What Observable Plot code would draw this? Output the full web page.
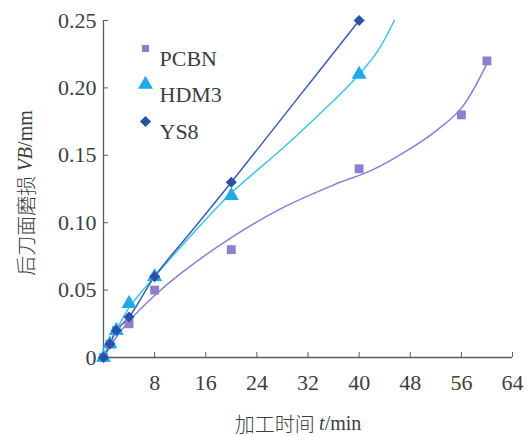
<!DOCTYPE html>
<html>
<head>
<meta charset="utf-8">
<script src="https://cdn.jsdelivr.net/npm/d3@7"></script>
<script src="https://cdn.jsdelivr.net/npm/@observablehq/plot@0.6"></script>
<style>
  html, body { margin: 0; padding: 0; background: #fff; }
  svg { display: block; }
</style>
</head>
<body>
<div id="chart"></div>
<script>
// Measured points
const series = ["PCBN", "HDM3", "YS8"];
const pcbnT = [0, 1, 2, 4, 8, 20, 40, 56, 60];
const pcbnVB = [0, 0.01, 0.02, 0.025, 0.05, 0.08, 0.14, 0.18, 0.22];
const hdm3T = [0, 1, 2, 4, 8, 20, 40];
const hdm3VB = [0, 0.01, 0.02, 0.04, 0.06, 0.12, 0.21];
const ys8T = [0, 1, 2, 4, 8, 20, 40];
const ys8VB = [0, 0.01, 0.02, 0.03, 0.06, 0.13, 0.25];

// Fitted curves
const pcbnFitT = [0, 2, 4, 8, 12, 20, 28, 36, 42, 48, 52, 56, 60];
const pcbnFitVB = [0, 0.015, 0.027, 0.046, 0.062, 0.089, 0.111, 0.128, 0.139, 0.155, 0.168, 0.185, 0.218];
const hdm3FitT = [0, 2, 4, 8, 14, 20, 28, 35, 40, 43, 45.5];
const hdm3FitVB = [0, 0.02, 0.037, 0.06, 0.092, 0.122, 0.155, 0.186, 0.21, 0.228, 0.25];
const ys8FitT = [0, 1, 2, 4, 8, 14, 20, 30, 40];
const ys8FitVB = [0, 0.01, 0.02, 0.03, 0.06, 0.095, 0.13, 0.19, 0.25];

const xTicks = [8, 16, 24, 32, 40, 48, 56, 64];
const yTicks = [0, 0.05, 0.10, 0.15, 0.20, 0.25];

const colors = {PCBN: "#8c7fcc", HDM3: "#1faaea", YS8: "#2a50a8"};
const lineColors = {PCBN: "#8a7dd6", HDM3: "#3cc4e6", YS8: "#3a5cb4"};
const symbols = {PCBN: "square", HDM3: "triangle", YS8: "diamond2"};
const radii = {PCBN: 5, HDM3: 5.6, YS8: 5};

const zip = (name, ts, vs) => ts.map((t, i) => ({series: name, t, vb: vs[i]}));
const points = [
  ...zip("PCBN", pcbnT, pcbnVB),
  ...zip("HDM3", hdm3T, hdm3VB),
  ...zip("YS8", ys8T, ys8VB)
];
const fits = [
  ...zip("PCBN", pcbnFitT, pcbnFitVB),
  ...zip("HDM3", hdm3FitT, hdm3FitVB),
  ...zip("YS8", ys8FitT, ys8FitVB)
];

const axisColor = "#50605c";
const textColor = "#3a403e";
const font = "'Liberation Serif', 'DejaVu Serif', serif";

const marks = [];
// axis lines
marks.push(Plot.ruleY([0], {stroke: axisColor, strokeWidth: 1.3}));
marks.push(Plot.ruleX([0], {stroke: axisColor, strokeWidth: 1.3}));
// inward ticks
marks.push(Plot.axisX(xTicks, {tickSize: 5, dy: -5, text: null, label: null, stroke: axisColor}));
marks.push(Plot.axisY(yTicks, {tickSize: 5, dx: 5, text: null, label: null, stroke: axisColor}));
// tick labels
marks.push(Plot.axisX(xTicks, {tickSize: 0, tickPadding: 17, fontSize: 22, label: null, fill: textColor, tickFormat: d => String(d)}));
marks.push(Plot.axisY(yTicks, {tickSize: 0, tickPadding: 7, fontSize: 22, label: null, fill: textColor, tickFormat: d => d === 0 ? "0" : d.toFixed(2)}));

// curves and markers
for (const s of series) {
  marks.push(Plot.line(fits.filter(d => d.series === s), {
    x: "t", y: "vb", stroke: lineColors[s], strokeWidth: 1.5, curve: "catmull-rom"
  }));
}
for (const s of series) {
  marks.push(Plot.dot(points.filter(d => d.series === s), {
    x: "t", y: "vb", symbol: symbols[s], r: radii[s], fill: colors[s], stroke: "none"
  }));
}
// legend
series.forEach((s, i) => {
  marks.push(Plot.dot([s], {frameAnchor: "top-left", dx: 42, dy: 28 + i * 36 + (i === 2 ? 1 : 0),
    symbol: symbols[s], r: i === 0 ? 4 : radii[s], fill: colors[s], stroke: "none"}));
  marks.push(Plot.text([s], {frameAnchor: "top-left", dx: 56, dy: 30 + i * 36 + (i === 2 ? 1 : 0),
    text: d => d, textAnchor: "start", fontSize: 22, fill: textColor}));
});

const svg = Plot.plot({
  width: 529,
  height: 436,
  marginLeft: 103,
  marginRight: 17,
  marginTop: 20,
  marginBottom: 79,
  style: {fontFamily: font, background: "#fff", overflow: "visible"},
  x: {domain: [0, 64], label: null},
  y: {domain: [0, 0.25], label: null},
  marks
});

const sel = d3.select(svg);
// y title
const yt = sel.append("text")
  .attr("transform", "translate(25,193) rotate(-90)")
  .attr("text-anchor", "middle")
  .attr("dominant-baseline", "central")
  .attr("fill", textColor)
  .style("font-size", "20px");
yt.append("tspan").style("font-family", "'Noto Sans CJK SC'").style("font-weight", "300").text("后刀面磨损 ");
yt.append("tspan").style("font-family", font).style("font-style", "italic").text("VB");
yt.append("tspan").style("font-family", font).text("/mm");
// x title
const xt = sel.append("text")
  .attr("x", 298).attr("y", 423)
  .attr("text-anchor", "middle")
  .attr("dominant-baseline", "central")
  .attr("fill", textColor)
  .style("font-size", "20px");
xt.append("tspan").style("font-family", "'Noto Sans CJK SC'").style("font-weight", "300").text("加工时间 ");
xt.append("tspan").style("font-family", font).style("font-style", "italic").text("t");
xt.append("tspan").style("font-family", font).text("/min");

document.getElementById("chart").appendChild(svg);
</script>
</body>
</html>
